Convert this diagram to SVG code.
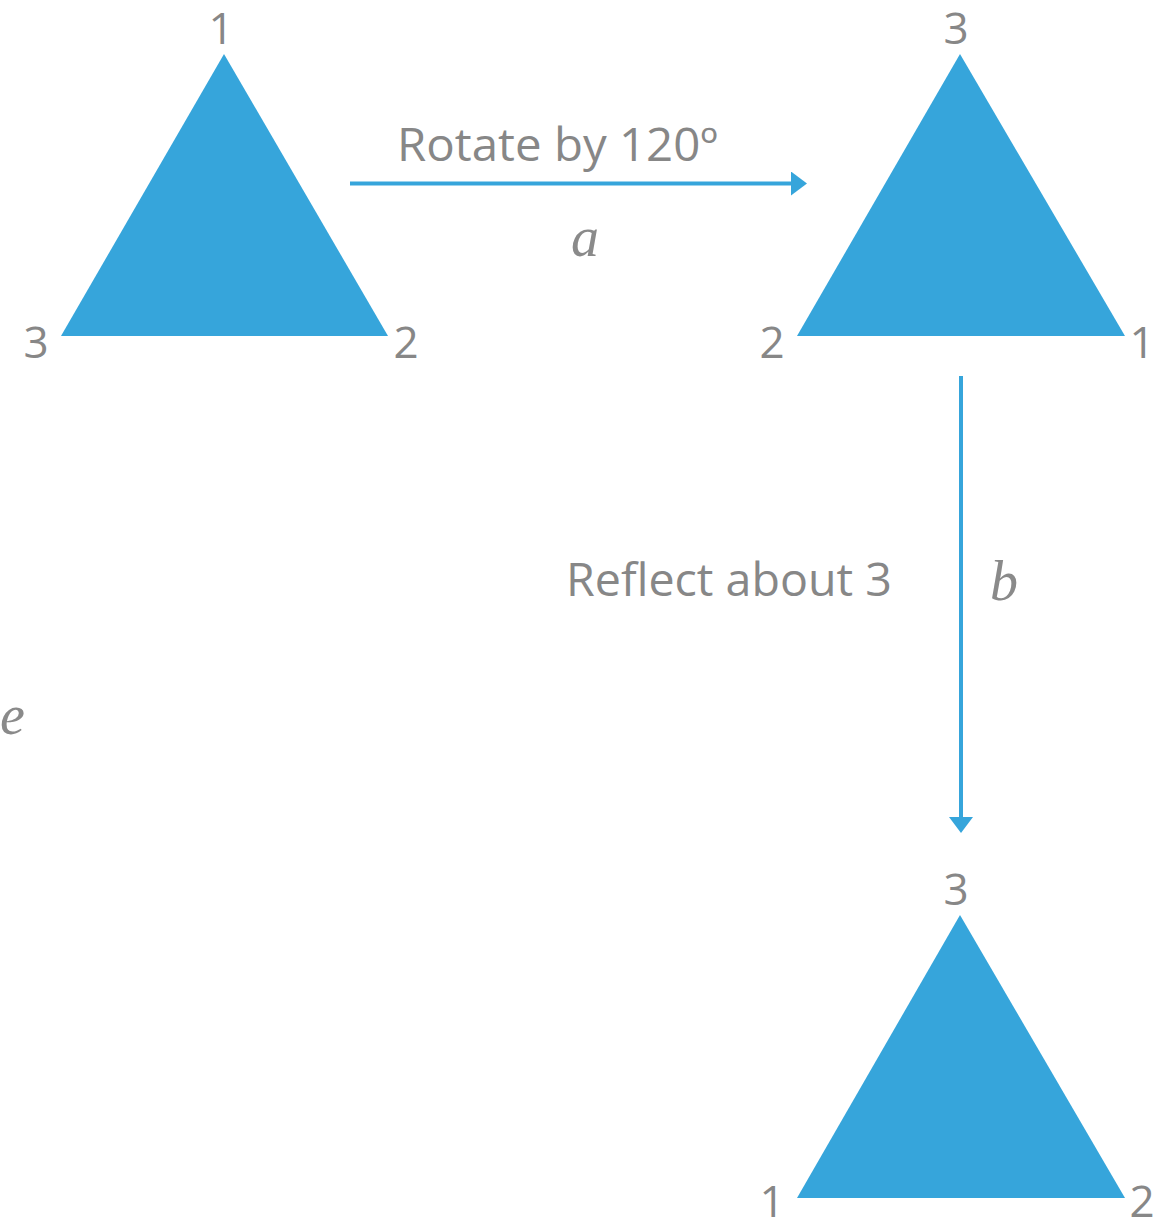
<svg xmlns="http://www.w3.org/2000/svg" width="1154" height="1223" viewBox="0 0 1154 1223">
<style>
.tri{fill:#36a5db}
.lbl{font-family:"Open Sans","Liberation Sans",sans-serif;fill:#878787;font-size:44px}
.cap{font-size:46px}
.num{text-anchor:middle}
.math{font-family:"Liberation Serif",serif;font-style:italic;fill:#8a8a8a;font-size:56px}
.conn{stroke:#36a5db;stroke-width:4;fill:none}
</style>
<defs>
<marker id="ah" markerWidth="6" markerHeight="6" refX="0" refY="3" orient="auto" markerUnits="strokeWidth">
<path d="M0,0 L4,3 L0,6 Z" fill="#36a5db"/>
</marker>
</defs>
<rect width="1154" height="1223" fill="#fff"/>
<g id="tri1">
<polygon class="tri" points="224,54 388,336 61,336"/>
<text class="lbl num" x="221" y="44">1</text>
<text class="lbl num" x="36" y="358">3</text>
<text class="lbl num" x="406" y="358">2</text>
</g>
<g id="tri2">
<polygon class="tri" points="960,54 1125,336 797,336"/>
<text class="lbl num" x="956" y="44">3</text>
<text class="lbl num" x="772" y="358">2</text>
<text class="lbl num" x="1142" y="358">1</text>
</g>
<g id="tri3">
<polygon class="tri" points="960,915 1125,1198 797,1198"/>
<text class="lbl num" x="956" y="905">3</text>
<text class="lbl num" x="772" y="1217">1</text>
<text class="lbl num" x="1142" y="1217">2</text>
</g>
<g id="connectors">
<line class="conn" x1="350" y1="183.5" x2="791" y2="183.5" marker-end="url(#ah)"/>
<line class="conn" x1="961" y1="376" x2="961" y2="817" marker-end="url(#ah)"/>
</g>
<g id="labels">
<text class="lbl cap" x="397" y="161" textLength="321" lengthAdjust="spacingAndGlyphs">Rotate by 120º</text>
<text class="math" x="571" y="256">a</text>
<text class="lbl cap" x="566" y="596" textLength="326" lengthAdjust="spacingAndGlyphs">Reflect about 3</text>
<text class="math" x="990" y="600">b</text>
<text class="math" x="0" y="734">e</text>
</g>
</svg>
